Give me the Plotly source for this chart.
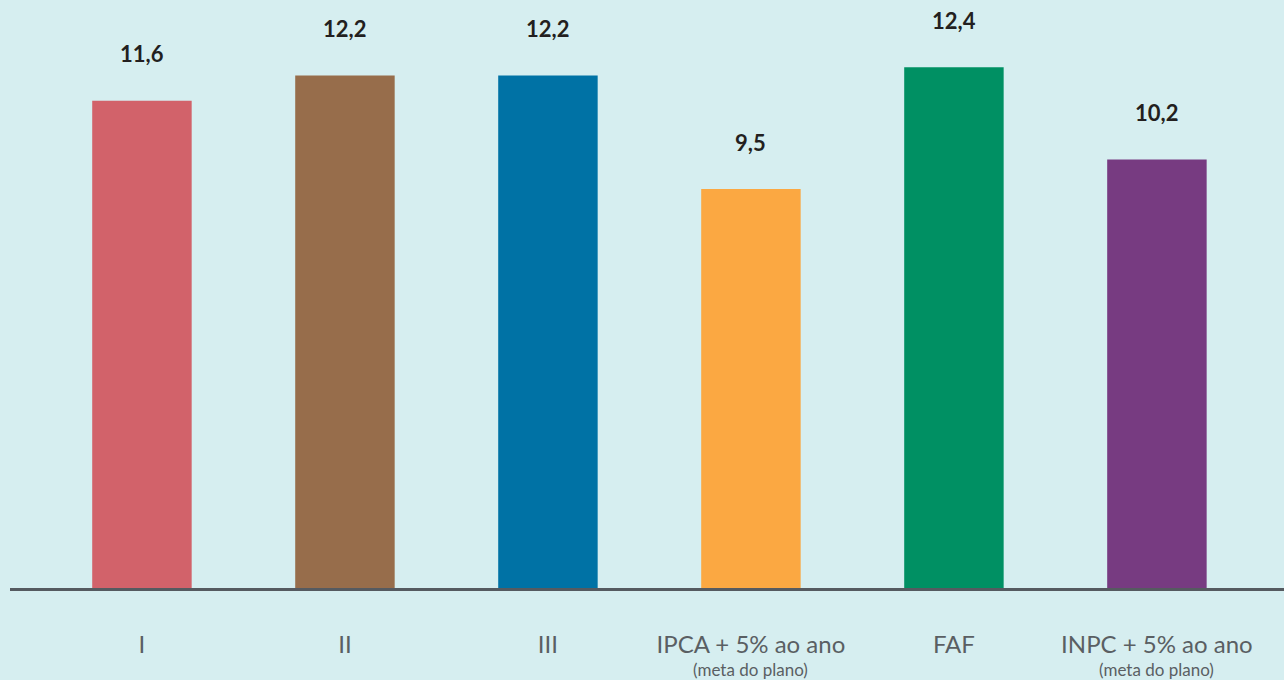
import plotly.graph_objects as go

categories = ["I", "II", "III", "IPCA + 5% ao ano", "FAF", "INPC + 5% ao ano"]
subtitles = ["", "", "", "(meta do plano)", "", "(meta do plano)"]
values = [11.6, 12.2, 12.2, 9.5, 12.4, 10.2]
colors = ["#d2626a", "#976d4b", "#0072a5", "#fba842", "#009063", "#773b81"]

fig = go.Figure()
fig.add_trace(go.Bar(
    x=categories,
    y=values,
    marker=dict(color=colors, line=dict(width=0)),
    width=0.49,
    hoverinfo="skip",
))

for c, v in zip(categories, values):
    fig.add_annotation(
        x=c, y=v, text=f"<b>{v:.1f}</b>".replace(".", ","),
        showarrow=False, yanchor="middle", yshift=47,
        font=dict(family="Lato", size=22, color="#231f20", weight=900),
    )

for c, s in zip(categories, subtitles):
    if s:
        fig.add_annotation(
            x=c, y=0, yref="paper", text=s,
            showarrow=False, yanchor="middle", yshift=-81,
            font=dict(family="Lato", size=17, color="#5a5f63"),
        )

fig.update_layout(
    width=1284, height=680,
    margin=dict(l=10, r=0, t=0, b=92),
    paper_bgcolor="#d6eef0",
    plot_bgcolor="#d6eef0",
    showlegend=False,
    xaxis=dict(
        type="category",
        range=[-0.65, 5.626],
        showline=True, linecolor="#555a60", linewidth=3,
        showgrid=False, zeroline=False, ticks="",
        tickfont=dict(family="Lato", size=24, color="#5a5f63"),
        ticklabelstandoff=33,
    ),
    yaxis=dict(
        range=[0, 14], visible=False, showgrid=False, zeroline=False,
    ),
)

fig.write_html(
    "out.html",
    config={"displayModeBar": False},
    post_script="document.body.style.margin='0';",
)
